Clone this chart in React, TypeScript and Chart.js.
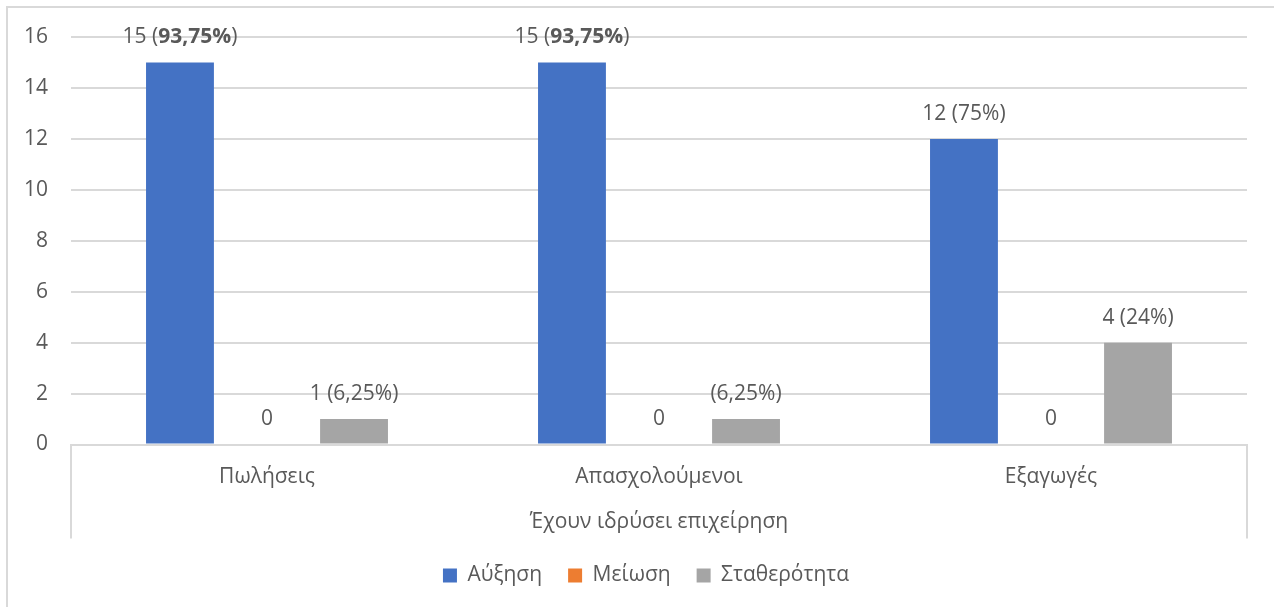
import React, { useEffect, useRef } from "react";
import { Chart, registerables } from "chart.js";

Chart.register(...registerables);

const categories = ["Πωλήσεις", "Απασχολούμενοι", "Εξαγωγές"];
const groupLabel = "Έχουν ιδρύσει επιχείρηση";
const seriesNames = ["Αύξηση", "Μείωση", "Σταθερότητα"];
const increaseValues = [15, 15, 12];
const decreaseValues = [0, 0, 0];
const stableValues = [1, 1, 4];
const increaseLabels = ["15 (**93,75%**)", "15 (**93,75%**)", "12 (75%)"];
const decreaseLabels = ["0", "0", "0"];
const stableLabels = ["1 (6,25%)", "(6,25%)", "4 (24%)"];
const yMin = 0;
const yMax = 16;
const yStep = 2;

const seriesColors = ["#4472C4", "#ED7D31", "#A5A5A5"];
const labelSets = [increaseLabels, decreaseLabels, stableLabels];
const seriesValues = [increaseValues, decreaseValues, stableValues];

const FONT = "'Open Sans', 'Noto Sans', sans-serif";
const FS = 21;
const TEXT = "#595959";
const LINE = "#d9d9d9";

function parseParts(s: string) {
  return s.split("**").map((t, i) => ({ t, b: i % 2 === 1 })).filter((p) => p.t.length > 0);
}

const framePlugin = {
  id: "frame",
  afterLayout(chart: any) {
    const l = chart.legend;
    if (l) l.left += 45;
  },
  beforeDraw(chart: any) {
    const ctx = chart.ctx;
    ctx.save();
    ctx.fillStyle = "#ffffff";
    ctx.fillRect(0, 0, chart.width, chart.height);
    ctx.strokeStyle = LINE;
    ctx.lineWidth = 2;
    ctx.strokeRect(7, 7, 3000, 3000);
    ctx.restore();
  },
  afterDraw(chart: any) {
    const ctx = chart.ctx;
    const a = chart.chartArea;
    ctx.save();
    ctx.strokeStyle = LINE;
    ctx.lineWidth = 2;
    ctx.beginPath();
    ctx.moveTo(a.left, a.bottom);
    ctx.lineTo(a.left, a.bottom + 94);
    ctx.moveTo(a.right, a.bottom);
    ctx.lineTo(a.right, a.bottom + 94);
    ctx.stroke();
    ctx.restore();
  },
};

const labelPlugin = {
  id: "barLabels",
  afterDatasetsDraw(chart: any) {
    const ctx = chart.ctx;
    ctx.save();
    ctx.fillStyle = TEXT;
    ctx.textBaseline = "middle";
    ctx.textAlign = "left";
    chart.data.datasets.forEach((_ds: any, i: number) => {
      const meta = chart.getDatasetMeta(i);
      meta.data.forEach((el: any, j: number) => {
        const parts = parseParts(labelSets[i][j]);
        const fonts = parts.map((p) => `${p.b ? "bold " : ""}${FS}px ${FONT}`);
        let total = 0;
        const widths = parts.map((p, k) => {
          ctx.font = fonts[k];
          const w = ctx.measureText(p.t).width;
          total += w;
          return w;
        });
        let x = el.x - total / 2;
        const y = el.y - 25;
        parts.forEach((p, k) => {
          ctx.font = fonts[k];
          ctx.fillText(p.t, x, y);
          x += widths[k];
        });
      });
    });
    ctx.restore();
  },
};

export default function App() {
  const ref = useRef<HTMLCanvasElement | null>(null);
  useEffect(() => {
    if (!ref.current) return;
    const chart = new Chart(ref.current, {
      type: "bar",
      data: {
        labels: categories,
        datasets: seriesNames.map((name, i) => ({
          label: name,
          data: seriesValues[i],
          backgroundColor: seriesColors[i],
          borderWidth: 0,
          categoryPercentage: 0.666,
          barPercentage: 0.78,
        })),
      },
      options: {
        animation: false,
        responsive: true,
        maintainAspectRatio: false,
        layout: { padding: { top: 37, left: 0, right: 27, bottom: 11 } },
        plugins: {
          tooltip: { enabled: false },
          legend: {
            position: "bottom",
            labels: {
              boxWidth: 14,
              boxHeight: 14,
              padding: 26,
              color: TEXT,
              font: { family: FONT, size: FS },
            },
          },
        },
        scales: {
          x: {
            grid: { display: false, drawTicks: false },
            border: { display: true, color: LINE, width: 2 },
            ticks: { color: TEXT, font: { family: FONT, size: FS }, padding: 20 },
            title: {
              display: true,
              text: groupLabel,
              color: TEXT,
              font: { family: FONT, size: FS },
              padding: { top: 0, bottom: 4 },
            },
            afterFit: (s: any) => {
              s.height = 94.5;
            },
          },
          y: {
            min: yMin,
            max: yMax,
            ticks: { stepSize: yStep, color: TEXT, font: { family: FONT, size: FS }, padding: 23 },
            grid: { color: LINE, lineWidth: 2, drawTicks: false },
            border: { display: false },
            afterFit: (s: any) => {
              s.width = 71;
            },
          },
        },
      },
      plugins: [framePlugin, labelPlugin],
    });
    return () => chart.destroy();
  }, []);
  return (
    <div style={{ position: "absolute", left: 0, top: 0, width: 1274, height: 607 }}>
      <canvas ref={ref} />
    </div>
  );
}
